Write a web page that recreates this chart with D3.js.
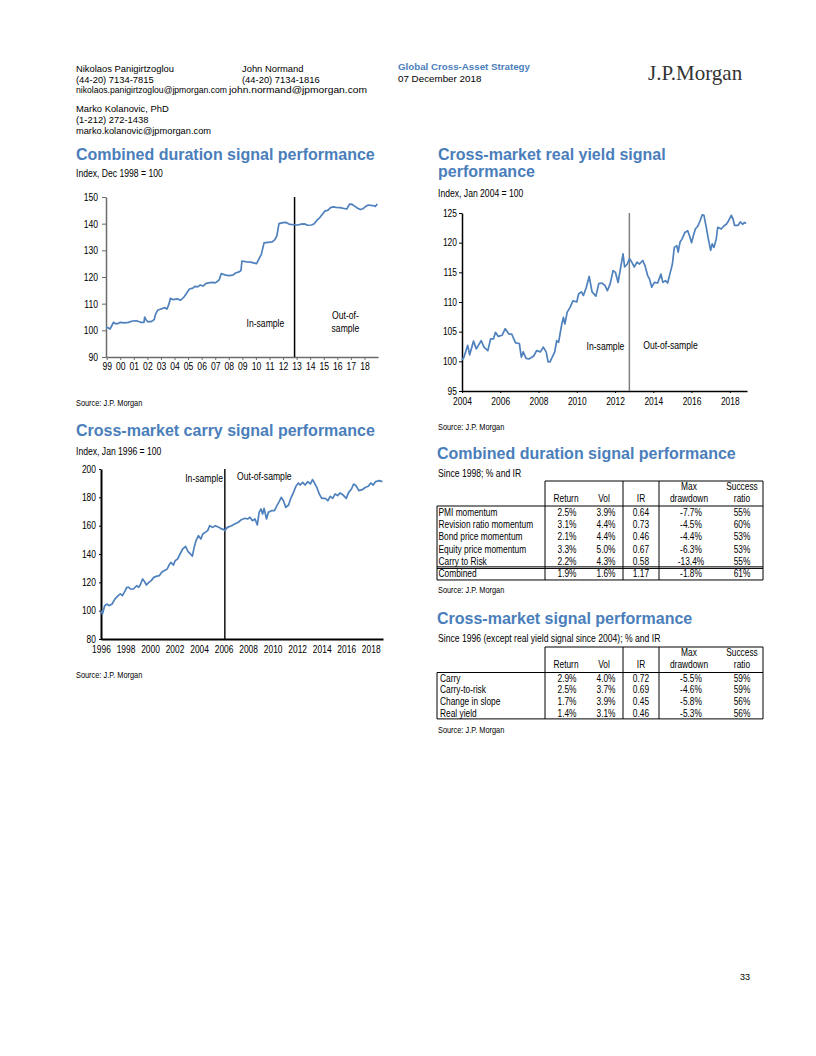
<!DOCTYPE html>
<html><head><meta charset="utf-8">
<script src="https://cdn.jsdelivr.net/npm/d3@7"></script>
<style>
body{margin:0;background:#fff;}
svg{display:block;}
</style></head><body>
<svg id="page" width="816" height="1056"></svg>
<script>
// ---------------- DATA ----------------
// Chart 1: Combined duration signal performance (Index, Dec 1998 = 100)
const durYears = [1998.95,1999.1,1999.25,1999.4,1999.5,1999.65,1999.8,2000.0,2000.3,2000.6,2000.9,2001.2,2001.5,2001.75,2001.8,2001.9,2002.0,2002.3,2002.5,2002.6,2002.75,2003.0,2003.3,2003.45,2003.6,2003.7,2003.9,2004.2,2004.45,2004.7,2004.9,2005.1,2005.35,2005.5,2005.7,2005.9,2006.1,2006.3,2006.5,2006.8,2007.0,2007.15,2007.3,2007.45,2007.7,2008.0,2008.3,2008.5,2008.8,2008.9,2008.97,2009.3,2009.6,2009.9,2010.05,2010.2,2010.4,2010.6,2010.9,2011.2,2011.4,2011.55,2011.7,2012.0,2012.2,2012.5,2012.8,2013.1,2013.3,2013.6,2013.8,2014.1,2014.3,2014.5,2014.7,2014.9,2015.1,2015.3,2015.5,2015.7,2015.9,2016.2,2016.5,2016.7,2016.9,2017.1,2017.3,2017.5,2017.7,2017.9,2018.1,2018.3,2018.6,2018.8,2018.95];
const durValues = [101,101,100.5,102,103,102.5,102.5,103,102.8,103,103.5,103.6,103,103,105,104,103.3,103.3,104,106,107.5,108,108.5,108,110,112,111.5,111.8,111.3,112.5,114,115.5,115.8,116.5,116.3,117,116.6,117.5,117.8,118,117.8,118.3,119,121.3,120.8,120.5,120.7,121.5,122,122.5,126,125.7,125.6,125.2,125,126.5,128.5,132.8,133,133.2,134,135.5,140,140.4,140.5,139.7,139.6,139.5,139.8,139.9,139.4,139.5,140,141.3,142.2,143.5,144.8,145,146,146.3,146.1,146,145.7,145.5,147.3,147.2,146.5,145.8,145.3,145.6,146.5,147,146.8,146.5,147.4];
const durYTicks = [90,100,110,120,130,140,150];
const durXTicks = [1999,2000,2001,2002,2003,2004,2005,2006,2007,2008,2009,2010,2011,2012,2013,2014,2015,2016,2017,2018];
const durXLabels = ["99","00","01","02","03","04","05","06","07","08","09","10","11","12","13","14","15","16","17","18"];

// Chart 2: Cross-market real yield signal performance (Index, Jan 2004 = 100)
const ryYears = [2004.0,2004.1,2004.3,2004.4,2004.6,2004.75,2005.0,2005.15,2005.35,2005.5,2005.65,2005.75,2005.9,2006.1,2006.26,2006.45,2006.6,2006.8,2007.0,2007.1,2007.2,2007.35,2007.5,2007.75,2007.9,2008.1,2008.25,2008.4,2008.5,2008.6,2008.85,2008.95,2009.05,2009.2,2009.3,2009.38,2009.5,2009.65,2009.8,2010.0,2010.1,2010.25,2010.35,2010.5,2010.65,2010.8,2011.0,2011.15,2011.3,2011.47,2011.6,2011.75,2011.9,2012.02,2012.16,2012.3,2012.42,2012.5,2012.64,2012.76,2012.88,2013.0,2013.15,2013.28,2013.45,2013.57,2013.7,2013.8,2013.92,2014.06,2014.23,2014.4,2014.5,2014.63,2014.75,2014.89,2015.0,2015.1,2015.23,2015.3,2015.4,2015.5,2015.65,2015.8,2015.92,2016.0,2016.1,2016.2,2016.33,2016.45,2016.56,2016.65,2016.77,2016.88,2017.0,2017.08,2017.17,2017.29,2017.37,2017.55,2017.69,2017.82,2017.94,2018.08,2018.17,2018.25,2018.43,2018.55,2018.67,2018.77,2018.85];
const ryValues = [100.2,100.7,102.7,101.1,103.4,102.1,103.5,102.4,101.8,103.8,103.8,104.9,104.2,104.4,105.5,104.6,104.6,103.1,103.0,100.7,101.6,100.5,100.4,100.9,101.8,101.6,102.4,101.6,99.9,99.9,101.6,103.5,103.2,106.0,107.4,106.3,108.3,109.1,110.2,110.0,111.4,111.7,111.1,112.5,114.3,111.7,111.0,113.1,113.2,112.8,111.9,113.1,115.3,115.0,113.3,115.9,118.1,115.9,116.4,117.3,116.7,115.9,116.7,116.4,117.0,116.1,114.5,113.9,112.5,113.3,113.2,114.7,113.3,113.6,113.2,115.0,116.4,119.2,119.5,118.4,120.1,120.6,121.7,122.0,120.9,120.0,121.2,122.3,122.8,123.7,124.7,124.6,122.6,120.6,118.7,119.8,119.2,120.6,122.6,122.3,122.8,123.1,123.7,124.6,124.0,122.9,122.9,123.5,123.1,123.4,123.2];
const ryYTicks = [95,100,105,110,115,120,125];
const ryXTicks = [2004,2006,2008,2010,2012,2014,2016,2018];

// Chart 3: Cross-market carry signal performance (Index, Jan 1996 = 100)
const carryYears = [1996.0,1996.12,1996.3,1996.5,1996.65,1996.9,1997.13,1997.4,1997.58,1997.75,1997.93,1998.1,1998.27,1998.4,1998.65,1998.9,1999.07,1999.2,1999.4,1999.55,1999.7,1999.9,2000.1,2000.3,2000.5,2000.75,2000.95,2001.15,2001.4,2001.55,2001.7,2001.9,2002.05,2002.25,2002.45,2002.65,2002.9,2003.1,2003.35,2003.45,2003.6,2003.75,2003.95,2004.15,2004.3,2004.5,2004.7,2004.87,2005.1,2005.33,2005.6,2005.75,2006.0,2006.1,2006.3,2006.65,2006.9,2007.2,2007.45,2007.74,2007.95,2008.15,2008.35,2008.56,2008.75,2008.9,2009.05,2009.18,2009.3,2009.5,2009.65,2009.9,2010.15,2010.35,2010.5,2010.7,2010.88,2011.07,2011.3,2011.48,2011.7,2011.9,2012.1,2012.25,2012.45,2012.65,2012.87,2013.07,2013.25,2013.42,2013.6,2013.8,2014.0,2014.3,2014.5,2014.7,2014.9,2015.1,2015.3,2015.5,2015.75,2016.0,2016.2,2016.43,2016.6,2016.8,2017.03,2017.3,2017.58,2017.8,2018.0,2018.2,2018.4,2018.7,2018.95];
const carryValues = [100,97.6,103.5,104.7,103.5,104.7,108.2,110.6,111.8,110.6,113.4,116.5,116.5,115.3,115.3,117.6,116.5,118.1,122.4,120.5,118.1,120.0,121.2,123.5,124.2,124.7,127.1,128.2,129.4,132.2,134.1,132.2,135.3,136.5,140.0,143.5,145.4,141.6,139.5,138.5,144.7,149.4,152.9,150.6,154.1,155.3,156.5,160.0,158.8,160.0,158.8,158.1,157.2,156.5,158.8,160.0,161.2,162.4,164.2,165.2,164.7,165.9,163.5,164.7,160.5,169.4,171.8,168.2,172.2,164.7,169.4,170.6,170.6,174.1,176.5,180.0,177.6,172.9,174.6,179.3,183.5,187.8,190.1,188.7,190.6,188.7,191.1,189.4,192.5,190.1,187.1,182.4,179.3,179.3,177.6,180.7,179.3,182.4,181.2,183.1,181.6,179.3,183.5,185.9,189.4,188.2,184.7,185.4,187.1,187.8,190.1,188.7,191.1,191.8,191.1];
const carryYTicks = [80,100,120,140,160,180,200];
const carryXTicks = [1996,1998,2000,2002,2004,2006,2008,2010,2012,2014,2016,2018];

// Table 1: Combined duration signal performance
const tableHeads = [["","Return"],["","Vol"],["","IR"],["Max","drawdown"],["Success","ratio"]];
const t1Labels = ["PMI momentum","Revision ratio momentum","Bond price momentum","Equity price momentum","Carry to Risk","Combined"];
const t1Return = ["2.5%","3.1%","2.1%","3.3%","2.2%","1.9%"];
const t1Vol = ["3.9%","4.4%","4.4%","5.0%","4.3%","1.6%"];
const t1IR = ["0.64","0.73","0.46","0.67","0.58","1.17"];
const t1MaxDD = ["-7.7%","-4.5%","-4.4%","-6.3%","-13.4%","-1.8%"];
const t1Success = ["55%","60%","53%","53%","55%","61%"];

// Table 2: Cross-market signal performance
const t2Labels = ["Carry","Carry-to-risk","Change in slope","Real yield"];
const t2Return = ["2.9%","2.5%","1.7%","1.4%"];
const t2Vol = ["4.0%","3.7%","3.9%","3.1%"];
const t2IR = ["0.72","0.69","0.45","0.46"];
const t2MaxDD = ["-5.5%","-4.6%","-5.8%","-5.3%"];
const t2Success = ["59%","59%","56%","56%"];

// ---------------- FONTS ----------------
function measure(s, font){ const c=document.createElement("canvas").getContext("2d"); c.font=font; return c.measureText(s).width; }
const probe = "Revision ratio momentum 0123";
const hasNarrow = measure(probe,"20px 'Liberation Sans Narrow', monospace") !== measure(probe,"20px monospace");
const SANS = "'Liberation Sans', Arial, Helvetica, sans-serif";
const NARROW = hasNarrow ? "'Liberation Sans Narrow', 'Liberation Sans', Arial, sans-serif" : SANS;
const SQ = hasNarrow ? 1 : 0.82;   // horizontal squeeze to emulate a narrow face

const BLUE = "#4a7ebb";
const LINE = "#4f81bd";
const svg = d3.select("#page");

function txt(x,y,s,o={}) {
  const t = svg.append("text").text(s)
    .attr("font-family", o.narrow ? NARROW : (o.family||SANS))
    .attr("font-size", o.size||10)
    .attr("font-weight", o.bold ? "bold" : "normal")
    .attr("fill", o.fill||"#000")
    .attr("text-anchor", o.anchor||"start")
    .attr("dominant-baseline","central");
  if (o.narrow && SQ !== 1) t.attr("x",0).attr("y",0).attr("transform",`translate(${x},${y}) scale(${SQ},1)`);
  else t.attr("x",x).attr("y",y);
  if (o.len) t.attr("textLength",o.len).attr("lengthAdjust","spacingAndGlyphs");
  return t;
}

// ---------------- HEADER ----------------
txt(76,68,"Nikolaos Panigirtzoglou",{size:9.4});
txt(76,79,"(44-20) 7134-7815",{size:9.4});
txt(76,89.5,"nikolaos.panigirtzoglou@jpmorgan.com",{size:9.4,len:151});
txt(242,68,"John Normand",{size:9.4});
txt(242,79,"(44-20) 7134-1816",{size:9.4});
txt(229,89.5,"john.normand@jpmorgan.com",{size:9.4,len:138});
txt(76,108,"Marko Kolanovic, PhD",{size:9.4});
txt(76,119,"(1-212) 272-1438",{size:9.4});
txt(76,130,"marko.kolanovic@jpmorgan.com",{size:9.4,len:135});
txt(398,67,"Global Cross-Asset Strategy",{size:9.2,bold:true,fill:BLUE,len:132});
txt(398,78,"07 December 2018",{size:9.8});
txt(648,73,"J.P.Morgan",{size:21,family:"'Liberation Serif','Times New Roman',serif",fill:"#333"});
txt(745,977,"33",{size:9,anchor:"middle"});

// ---------------- TITLES ----------------
function title(x,yBase,s){ return svg.append("text").attr("x",x).attr("y",yBase).text(s)
  .attr("font-family",SANS).attr("font-size",16).attr("font-weight","bold").attr("fill",BLUE); }
title(76,159.5,"Combined duration signal performance");
title(438,159.5,"Cross-market real yield signal");
title(438,177,"performance");
title(76,435.5,"Cross-market carry signal performance");
title(437,458.5,"Combined duration signal performance");
title(437,623.5,"Cross-market signal performance");

txt(76,173,"Index, Dec 1998 = 100",{narrow:true,size:10.5});
txt(438,193,"Index, Jan 2004 = 100",{narrow:true,size:10.5});
txt(76,451,"Index, Jan 1996 = 100",{narrow:true,size:10.5});
txt(438,473,"Since 1998; % and IR",{narrow:true,size:10.5});
txt(438,638,"Since 1996 (except real yield signal since 2004); % and IR",{narrow:true,size:10.5});

txt(76,403,"Source: J.P. Morgan",{narrow:true,size:9});
txt(438,427,"Source: J.P. Morgan",{narrow:true,size:9});
txt(76,675,"Source: J.P. Morgan",{narrow:true,size:9});
txt(438,590,"Source: J.P. Morgan",{narrow:true,size:9});
txt(438,730,"Source: J.P. Morgan",{narrow:true,size:9});

// ---------------- CHARTS ----------------
function drawChart(c){
  const x = d3.scaleLinear().domain(c.xDomain).range(c.xRange);
  const y = d3.scaleLinear().domain(c.yDomain).range(c.yRange);
  const g = svg.append("g");
  const ya = d3.axisLeft(y).tickValues(c.yTicks).tickSize(c.yTick).tickSizeOuter(0).tickPadding(c.yPad).tickFormat(d3.format("d"));
  const xa = d3.axisBottom(x).tickValues(c.xTicks).tickSize(c.xTick).tickSizeOuter(0).tickPadding(c.xPad)
     .tickFormat((d,i)=> c.xLabels ? c.xLabels[i] : String(d));
  const gy = g.append("g").attr("transform",`translate(${c.xRange[0]},0)`).call(ya);
  const gx = g.append("g").attr("transform",`translate(0,${c.yRange[0]})`).call(xa);
  [gy,gx].forEach(a=>{
    a.select(".domain").attr("stroke",c.axisColor).attr("stroke-width",c.axisWidth);
    a.selectAll(".tick line").attr("stroke",c.axisColor).attr("stroke-width",1);
    a.selectAll(".tick text").attr("font-family",NARROW).attr("font-size",c.labelSize).attr("fill","#000")
      .attr("transform",`scale(${SQ},1)`);
  });
  gy.selectAll(".tick text").attr("x", -(c.yTick+c.yPad)/SQ);
  g.append("line").attr("x1",x(c.split)).attr("x2",x(c.split))
    .attr("y1",y(c.yDomain[1])).attr("y2",y(c.yDomain[0]))
    .attr("stroke",c.splitColor).attr("stroke-width",c.splitWidth);
  const pts = c.years.map((d,i)=>[d,c.values[i]]);
  g.append("path").datum(pts).attr("fill","none").attr("stroke",LINE).attr("stroke-width",1.7)
    .attr("stroke-linejoin","round").attr("d", d3.line().x(d=>x(d[0])).y(d=>y(d[1])));
  c.notes.forEach(n=> txt(x(n.x), y(n.y), n.text, {narrow:true, size:10.5, anchor:n.anchor||"middle"}));
}

drawChart({years:durYears, values:durValues, xDomain:[1998.95,2019], xRange:[106,378],
  yDomain:[90,150], yRange:[357,197], yTicks:durYTicks, xTicks:durXTicks, xLabels:durXLabels,
  yTick:4, yPad:4, xTick:3, xPad:2.5, axisColor:"#6b6b6b", axisWidth:1.5, labelSize:10.5,
  split:2012.85, splitColor:"#000", splitWidth:1.5,
  notes:[{x:2010.7,y:102.8,text:"In-sample"},{x:2016.6,y:105.7,text:"Out-of-"},{x:2016.6,y:100.9,text:"sample"}]});

drawChart({years:ryYears, values:ryValues, xDomain:[2004,2018.9], xRange:[462,747],
  yDomain:[95,125], yRange:[391,213], yTicks:ryYTicks, xTicks:ryXTicks,
  yTick:3, yPad:2, xTick:2, xPad:4.5, axisColor:"#000", axisWidth:1.5, labelSize:10.3,
  split:2012.75, splitColor:"#7f7f7f", splitWidth:1.5,
  notes:[{x:2011.5,y:102.5,text:"In-sample"},{x:2014.9,y:102.75,text:"Out-of-sample"}]});

drawChart({years:carryYears, values:carryValues, xDomain:[1996,2019], xRange:[101,383],
  yDomain:[80,200], yRange:[639,469], yTicks:carryYTicks, xTicks:carryXTicks,
  yTick:2, yPad:3, xTick:1, xPad:6, axisColor:"#000", axisWidth:2, labelSize:10.3,
  split:2006.1, splitColor:"#111", splitWidth:1.5,
  notes:[{x:2005.95,y:193.6,text:"In-sample",anchor:"end"},{x:2007.1,y:194.6,text:"Out-of-sample",anchor:"start"}]});

// ---------------- TABLES ----------------
function drawTable(t){
  const L=437, R=763, divs=[545,623,659];
  const colX=[567,606,641,691,742];
  const headX=[566,604,641,689,742];
  const bottom = t.headBottom + t.rowH*t.labels.length;
  const g = svg.append("g").attr("stroke","#000").attr("stroke-width",1);
  g.append("line").attr("x1",divs[0]).attr("x2",R).attr("y1",t.top).attr("y2",t.top);
  g.append("line").attr("x1",L).attr("x2",R).attr("y1",t.headBottom).attr("y2",t.headBottom);
  g.append("line").attr("x1",L).attr("x2",R).attr("y1",bottom).attr("y2",bottom);
  g.append("line").attr("x1",L).attr("x2",L).attr("y1",t.headBottom).attr("y2",bottom);
  divs.concat([R]).forEach(dx=> g.append("line").attr("x1",dx).attr("x2",dx).attr("y1",t.top).attr("y2",bottom));
  if (t.sepLast){
    const ys = t.headBottom + t.rowH*(t.labels.length-1);
    g.append("line").attr("x1",L).attr("x2",R).attr("y1",ys-0.8).attr("y2",ys-0.8);
    g.append("line").attr("x1",L).attr("x2",R).attr("y1",ys+0.8).attr("y2",ys+0.8);
  }
  tableHeads.forEach((h,i)=>{
    if(h[0]) txt(headX[i], t.headBottom-19.5, h[0], {narrow:true,size:10.2,anchor:"middle"});
    txt(headX[i], t.headBottom-7.5, h[1], {narrow:true,size:10.2,anchor:"middle"});
  });
  const cols=[t.ret,t.vol,t.ir,t.dd,t.succ];
  t.labels.forEach((lab,r)=>{
    const cy = t.headBottom + t.rowH*(r+0.5) + 0.2;
    txt(t.labelX, cy, lab, {narrow:true,size:10.2});
    cols.forEach((col,ci)=> txt(colX[ci], cy, col[r], {narrow:true,size:10.2,anchor:"middle"}));
  });
}
drawTable({top:481, headBottom:506, rowH:12.33, labels:t1Labels, ret:t1Return, vol:t1Vol, ir:t1IR, dd:t1MaxDD, succ:t1Success, sepLast:true, labelX:438.5});
drawTable({top:647, headBottom:672.5, rowH:11.6, labels:t2Labels, ret:t2Return, vol:t2Vol, ir:t2IR, dd:t2MaxDD, succ:t2Success, sepLast:false, labelX:440});
</script>
</body></html>
